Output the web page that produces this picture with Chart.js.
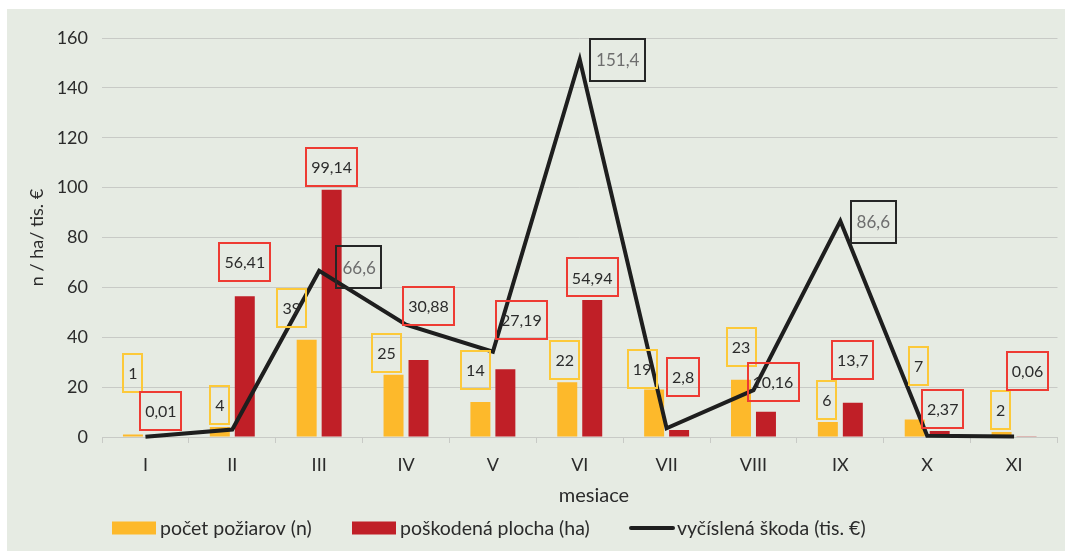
<!DOCTYPE html>
<html><head><meta charset="utf-8">
<script src="https://cdn.jsdelivr.net/npm/chart.js@4"></script>
<style>html,body{margin:0;padding:0;background:#fff;}</style>
</head><body>
<canvas id="c" width="1065" height="551"></canvas>
<script>
// ---- data ----
const categories = ['I','II','III','IV','V','VI','VII','VIII','IX','X','XI'];
const fires  = [1, 4, 39, 25, 14, 22, 19, 23, 6, 7, 2];
const area   = [0.01, 56.41, 99.14, 30.88, 27.19, 54.94, 2.8, 10.16, 13.7, 2.37, 0.06];
const damage = [0.1, 3, 66.6, 45, 34.2, 151.4, 3.5, 18.8, 86.6, 0.5, 0.2];
const damageLabelIdx = [2, 5, 8];
const seriesNames = ['počet požiarov (n)', 'poškodená plocha (ha)', 'vyčíslená škoda (tis. €)'];
const xTitle = 'mesiace';
const yTitle = 'n / ha/ tis. €';
const yTicks = [0, 20, 40, 60, 80, 100, 120, 140, 160];

const FONT = 'Lato, "Open Sans", sans-serif';
const TEXT = '#2b2b2b';
const fmt = v => String(v).replace('.', ',');

const bgPlugin = {
  id: 'bg',
  beforeDraw(chart) {
    const c = chart.ctx;
    c.save();
    c.fillStyle = '#fff';
    c.fillRect(0, 0, chart.width, chart.height);
    c.fillStyle = '#e6ebe3';
    c.fillRect(7, 9, chart.width - 7, chart.height - 9);
    c.restore();
  }
};

const labelPlugin = {
  id: 'boxLabels',
  afterDatasetsDraw(chart, args, opts) {
    const c = chart.ctx;
    c.save();
    opts.sets.forEach(set => {
      const meta = chart.getDatasetMeta(set.dataset);
      const data = chart.data.datasets[set.dataset].data;
      const idxs = set.indices || data.map((_, i) => i);
      idxs.forEach((idx, k) => {
        const el = meta.data[idx];
        const [dx, dy] = set.offsets[k];
        const text = fmt(data[idx]);
        c.font = set.font;
        const w = c.measureText(text).width + set.padX * 2;
        const h = set.boxH;
        const cx = el.x + dx, cy = el.y + dy;
        c.strokeStyle = set.border;
        c.lineWidth = 2;
        c.strokeRect(Math.round(cx - w / 2), Math.round(cy - h / 2), Math.round(w), h);
        c.fillStyle = set.color;
        c.textAlign = 'center';
        c.textBaseline = 'middle';
        c.fillText(text, cx, cy + 1);
      });
    });
    c.restore();
  }
};

const legendPlugin = {
  id: 'customLegend',
  afterDraw(chart, args, opts) {
    const c = chart.ctx;
    c.save();
    c.textBaseline = 'middle';
    // x axis title
    c.font = opts.titleFont;
    c.fillStyle = TEXT;
    c.textAlign = 'center';
    c.fillText(xTitle, opts.titleX, opts.titleY);
    // legend
    c.font = opts.font;
    c.textAlign = 'left';
    chart.data.datasets.forEach((ds, i) => {
      const x = opts.xs[i];
      const y = opts.y;
      if (ds.type === 'line') {
        c.strokeStyle = ds.borderColor;
        c.lineWidth = 4;
        c.lineCap = 'round';
        c.beginPath(); c.moveTo(x + 2, y); c.lineTo(x + opts.boxW, y); c.stroke();
      } else {
        c.fillStyle = ds.backgroundColor;
        c.fillRect(x, y - opts.boxH / 2, opts.boxW, opts.boxH);
      }
      c.fillStyle = TEXT;
      c.fillText(ds.label, x + opts.boxW + opts.gap, y + 1);
    });
    c.restore();
  }
};

new Chart(document.getElementById('c'), {
  data: {
    labels: categories,
    datasets: [
      { type: 'bar', label: seriesNames[0], data: fires, backgroundColor: '#fdb92b', order: 1,
        categoryPercentage: 0.575, barPercentage: 0.8 },
      { type: 'bar', label: seriesNames[1], data: area, backgroundColor: '#c01f27', order: 1,
        categoryPercentage: 0.575, barPercentage: 0.8 },
      { type: 'line', label: seriesNames[2], data: damage, borderColor: '#1e1e1e', borderWidth: 4,
        pointRadius: 0, tension: 0, clip: false, order: 0, fill: false }
    ]
  },
  options: {
    responsive: false,
    animation: false,
    events: [],
    layout: { padding: { left: 0, right: 7.5, top: 38, bottom: 0 } },
    plugins: {
      legend: { display: false },
      tooltip: { enabled: false },
      boxLabels: {
        sets: [
          { dataset: 0, font: '16px ' + FONT, color: TEXT, border: '#fcc93a', padX: 5, boxH: 38,
            offsets: [[0,-61.5],[0,-22],[-15,-32],[-7,-22],[-5,-32.5],[-2.5,-22],[-12,-20.5],[0,-32.5],[-1,-22],[4,-53.5],[-1,-22]] },
          { dataset: 1, font: '16px ' + FONT, color: TEXT, border: '#ee3b33', padX: 5, boxH: 38,
            offsets: [[3,-26],[0,-34],[0,-23],[10,-54],[16,-49],[0,-22.5],[4,-53],[7,-30],[0,-43],[3,-22],[1,-66]] },
          { dataset: 2, indices: damageLabelIdx, font: '17px ' + FONT, color: '#6e6e6e', border: '#262626', padX: 6, boxH: 42,
            offsets: [[40,-3.5],[38,0.5],[33,0.7]] }
        ]
      },
      customLegend: { font: '19.5px ' + FONT, xs: [112, 352, 629], y: 528, boxW: 44, boxH: 13, gap: 4,
                      titleFont: '20px ' + FONT, titleX: 594, titleY: 496 }
    },
    scales: {
      x: {
        grid: { display: true, drawOnChartArea: false, drawTicks: true, tickLength: 6, color: '#c8cac6', offset: true },
        border: { display: true, color: '#c8cac6', width: 1 },
        ticks: { font: { family: FONT, size: 18 }, color: TEXT, padding: 11 },
        afterFit(s) { s.height = 114; }
      },
      y: {
        min: 0, max: 160,
        afterBuildTicks(s) { s.ticks = yTicks.map(v => ({ value: v })); },
        grid: { color: '#c8cac6', drawTicks: false, lineWidth: 1 },
        border: { display: false },
        ticks: { font: { family: FONT, size: 18 }, color: TEXT, padding: 14 },
        title: { display: true, text: yTitle, font: { family: FONT, size: 18 }, color: TEXT,
                 padding: { top: 26.5, bottom: 0 } },
        afterFit(s) { s.width = 102; }
      }
    }
  },
  plugins: [bgPlugin, labelPlugin, legendPlugin]
});
</script>
</body></html>
